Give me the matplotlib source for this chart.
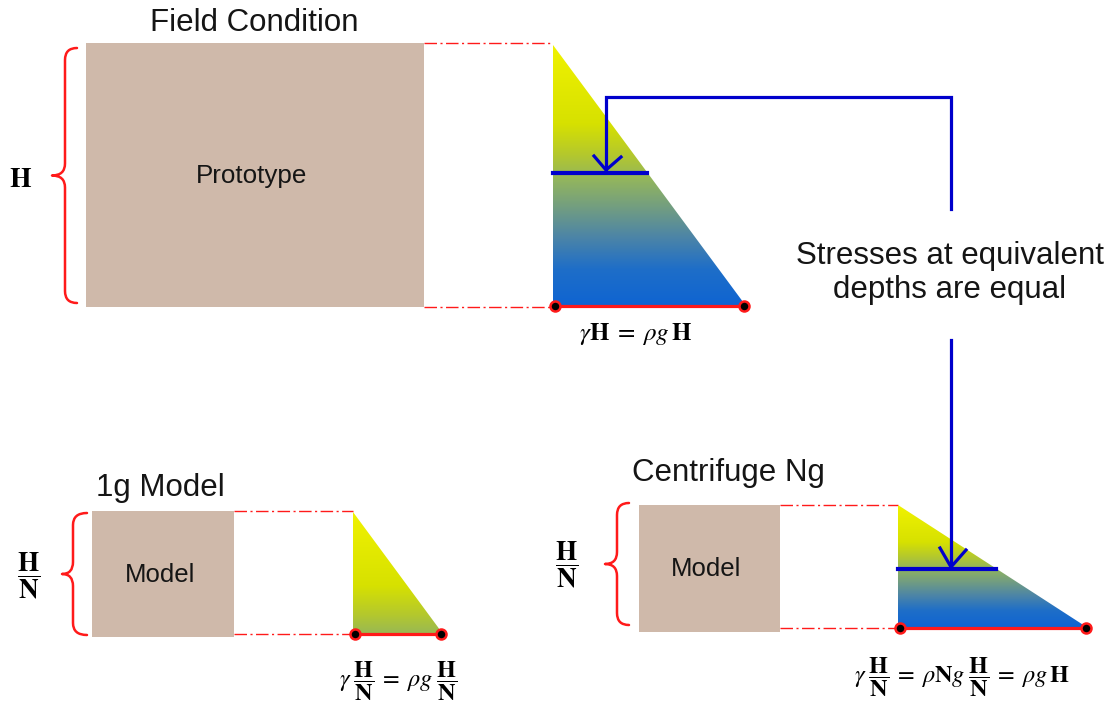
import numpy as np
import matplotlib
matplotlib.use("Agg")
import matplotlib.pyplot as plt
from matplotlib.path import Path
from matplotlib.patches import PathPatch, Polygon, Rectangle
from matplotlib.colors import LinearSegmentedColormap

plt.rcParams['font.family'] = ['Liberation Sans', 'DejaVu Sans']
plt.rcParams['mathtext.fontset'] = 'stix'

# ---- content ----
panel_titles = ["Field Condition", "1g Model", "Centrifuge Ng"]
block_labels = ["Prototype", "Model", "Model"]
depth_labels = [r"$\mathbf{H}$", r"$\dfrac{\mathbf{H}}{\mathbf{N}}$", r"$\dfrac{\mathbf{H}}{\mathbf{N}}$"]
equations = [r"$\gamma\mathbf{H}\;=\;\rho g\,\mathbf{H}$",
             r"$\gamma\;\dfrac{\mathbf{H}}{\mathbf{N}}\,=\;\rho g\;\dfrac{\mathbf{H}}{\mathbf{N}}$",
             r"$\gamma\;\dfrac{\mathbf{H}}{\mathbf{N}}\,=\;\rho\mathbf{N}g\;\dfrac{\mathbf{H}}{\mathbf{N}}\,=\;\rho g\,\mathbf{H}$"]
note = "Stresses at equivalent\ndepths are equal"
# fraction of the stress gradient reached at the base of each triangle
gradient_reach = [1.0, 0.5, 1.0]

# ---- layout (pixel coordinates) ----
blocks = [(86, 424, 43, 307), (92, 234, 511, 637), (639, 780, 505, 632)]
tris = [(553, 746, 45, 306), (353, 443, 512, 634), (898, 1088, 505, 628)]
dash_y = [(43, 307), (511, 634), (505, 628)]
braces = [(65, 52, 77, 48, 303), (73, 62, 87, 513, 635), (617, 605, 629, 503, 625)]
depth_pos = [(21, 180), (29, 576), (567, 565)]
title_pos = [(254, 23), (160, 488), (728, 473)]
eq_pos = [(636, 334), (398, 681), (962, 677)]
eq_size = [18, 17.5, 17.5]

grad_stops = [0.0, 0.3, 0.42, 0.52, 0.62, 0.74, 0.86, 1.0]
grad_rgb = [(240, 242, 0), (215, 225, 0), (180, 200, 45), (145, 180, 95), (115, 158, 128),
            (75, 132, 168), (30, 110, 200), (15, 100, 210)]
cmap = LinearSegmentedColormap.from_list(
    "stress", [(s, tuple(c / 255 for c in rgb)) for s, rgb in zip(grad_stops, grad_rgb)])

RED = "#ff1a1a"
BLUE = "#0000cc"
BROWN = "#cfb9aa"
TXT = "#151515"

fig = plt.figure(figsize=(11.18, 7.10), dpi=100)
ax = fig.add_axes([0, 0, 1, 1])
ax.set_xlim(0, 1118)
ax.set_ylim(710, 0)
ax.axis('off')


def brace(xv, xt, xe, y0, y1):
    ym = (y0 + y1) / 2
    r = 12
    verts = [(xe, y0), (xv, y0), (xv, y0 + r), (xv, ym - r), (xv, ym), (xt, ym),
             (xv, ym), (xv, ym + r), (xv, y1 - r), (xv, y1), (xe, y1)]
    codes = [Path.MOVETO, Path.CURVE3, Path.CURVE3, Path.LINETO, Path.CURVE3, Path.CURVE3,
             Path.CURVE3, Path.CURVE3, Path.LINETO, Path.CURVE3, Path.CURVE3]
    ax.add_patch(PathPatch(Path(verts, codes), fill=False, edgecolor=RED, lw=1.8,
                           capstyle='round', joinstyle='round'))


for i in range(3):
    bx0, bx1, by0, by1 = blocks[i]
    ax.add_patch(Rectangle((bx0, by0), bx1 - bx0, by1 - by0, facecolor=BROWN, edgecolor='none', zorder=1))
    ax.text((bx0 + bx1) / 2 - 3, (by0 + by1) / 2 + 1, block_labels[i], ha='center', va='center',
            fontsize=18.7 if i == 0 else 18.5, color=TXT)
    tx, ty = title_pos[i]
    ax.text(tx, ty, panel_titles[i], ha='center', va='center', fontsize=22.5, color=TXT)
    brace(*braces[i])
    dx, dy = depth_pos[i]
    ax.text(dx, dy, depth_labels[i], ha='center', va='center', fontsize=20 if i == 0 else 19.5, color='black')

    tx0, tx1, ty0, ty1 = tris[i]
    for yy in dash_y[i]:
        ax.plot([bx1, tx0], [yy, yy], color=RED, lw=1.0, dashes=(9, 2.5, 1.5, 2.5), zorder=2)
    g = np.linspace(0, gradient_reach[i], 256)
    img = cmap(g)[:, None, :]
    im = ax.imshow(img, extent=(tx0, tx1, ty1, ty0), origin='upper', aspect='auto',
                   interpolation='bilinear', zorder=3)
    tri = Polygon([(tx0, ty0), (tx0, ty1), (tx1, ty1)], closed=True, facecolor='none', edgecolor='none')
    ax.add_patch(tri)
    im.set_clip_path(tri)
    ax.plot([tx0 + 2, tx1 - 2], [ty1, ty1], color=RED, lw=2.3, zorder=4)
    ax.plot([tx0 + 2, tx1 - 2], [ty1, ty1], ls='none', marker='o', ms=7.2, mfc='black',
            mec=RED, mew=1.8, zorder=5)
    ex, ey = eq_pos[i]
    ax.text(ex, ey, equations[i], ha='center', va='center', fontsize=eq_size[i], color='black')

ax.set_xlim(0, 1118)
ax.set_ylim(710, 0)

# blue connector, arrows and stress bars
ax.plot([606, 606, 951, 951], [170, 97, 97, 209], color=BLUE, lw=2.3, zorder=6, solid_joinstyle='miter')
ax.plot([594, 606, 621], [156, 170, 157], color=BLUE, lw=2.3, zorder=6)
ax.plot([553, 647], [173, 173], color=BLUE, lw=3.0, zorder=6)

ax.plot([951, 951], [340, 567], color=BLUE, lw=2.3, zorder=6)
ax.plot([940, 951, 966], [548, 567, 550], color=BLUE, lw=2.3, zorder=6)
ax.plot([898, 996], [569, 569], color=BLUE, lw=3.0, zorder=6)

ax.text(950, 273, note, ha='center', va='center', fontsize=22.5, color=TXT, linespacing=1.15)

fig.savefig("out.png", dpi=100)
